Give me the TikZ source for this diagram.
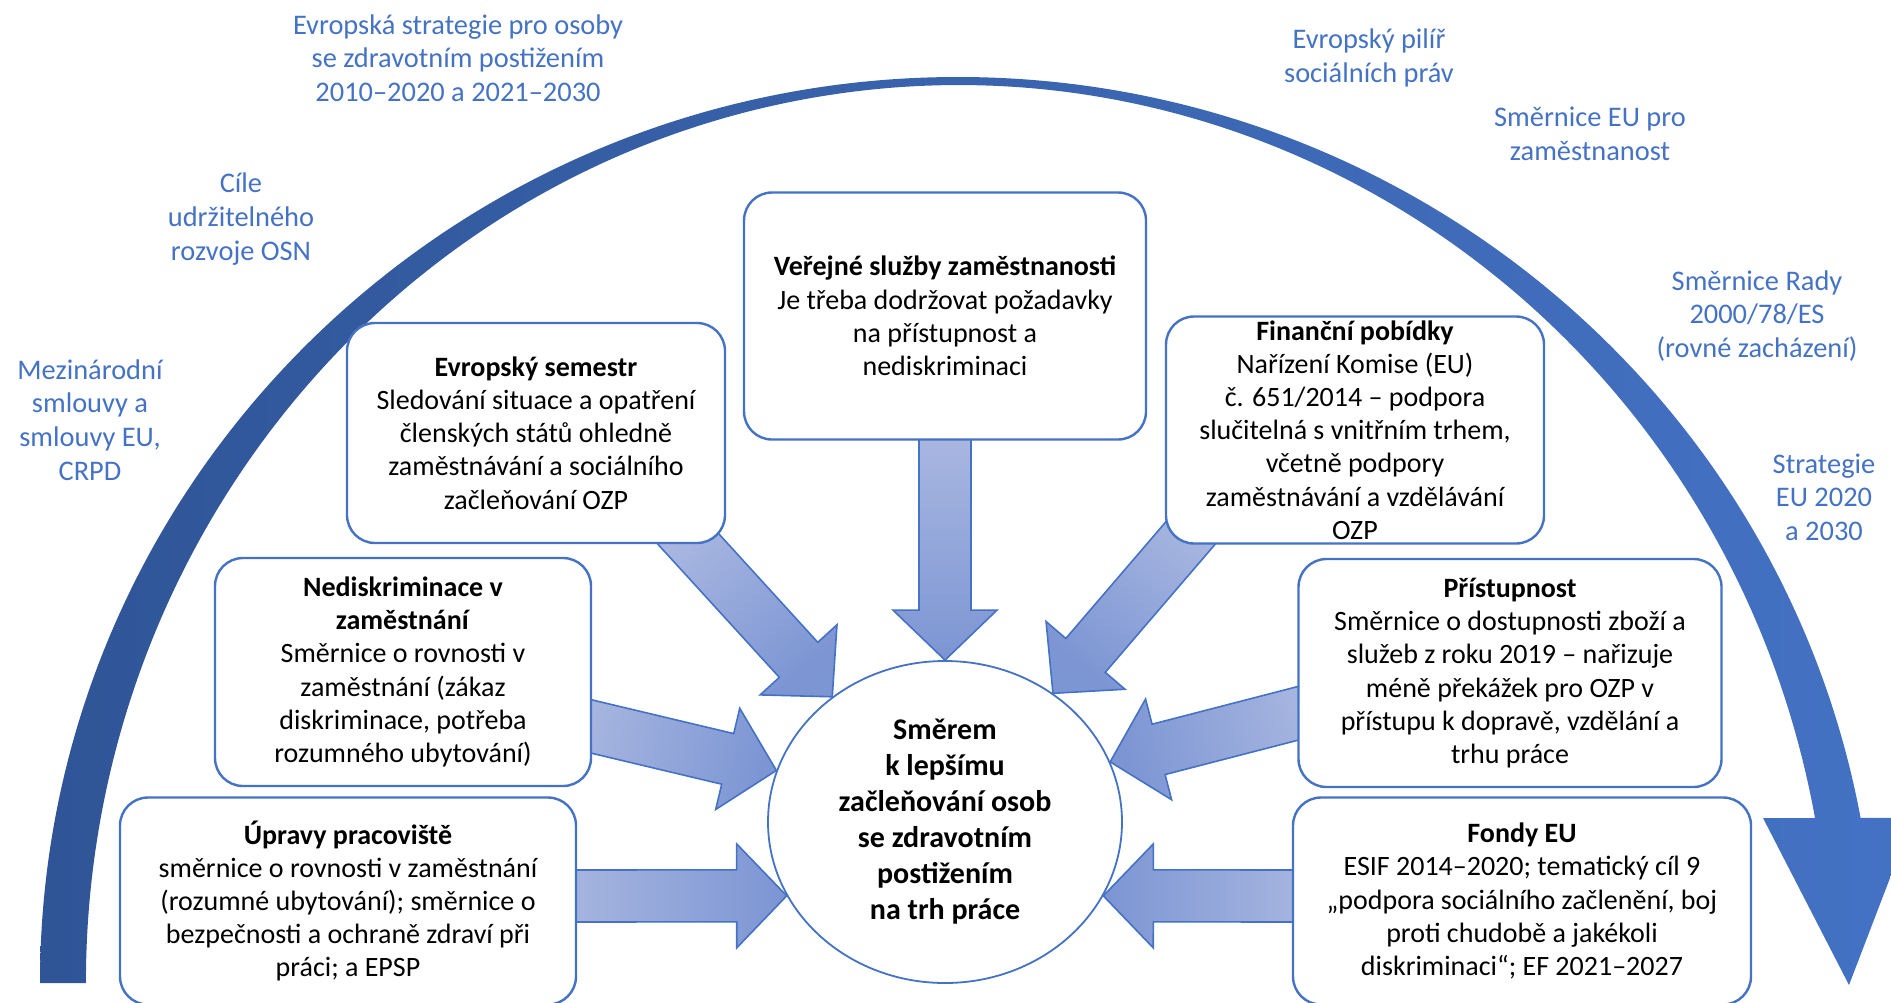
\documentclass[tikz,border=0pt]{standalone}
\usepackage{fontspec}
\setmainfont{Carlito}
\usepackage{tikz}
\usetikzlibrary{shapes.geometric, calc}
\definecolor{boxblue}{RGB}{68,114,196}
\definecolor{arcblue}{RGB}{47,85,151}
\definecolor{arrowlight}{RGB}{170,184,225}
\definecolor{arrowdark}{RGB}{124,149,211}
\newcommand{\txtsize}{\fontsize{14}{16.6}\selectfont}
\pgfdeclarelayer{background}
\pgfsetlayers{background,main}

\begin{document}
\begin{tikzpicture}[x=0.5pt, y=-0.5pt,
  box/.style={draw=boxblue, line width=1.2pt, rounded corners=14pt, fill=white, inner sep=0pt, align=center, font=\txtsize},
  lbl/.style={text=boxblue, align=center, inner sep=0pt, font=\fontsize{14.2}{16.8}\selectfont},
  goalnode/.style={ellipse, draw=boxblue, line width=0.9pt, fill=white, inner sep=0pt, align=center, minimum width=177pt, minimum height=161pt, font=\fontsize{15}{18}\selectfont\bfseries},
  blockarrow/.style={draw=boxblue, line width=0.8pt, left color=arrowlight, right color=arrowdark}]
  \useasboundingbox (0,0) rectangle (1891,1002);

  \node [goalnode] (goal) at (945,822) {Směrem\\k lepšímu\\začleňování osob\\se zdravotním\\postižením\\na trh práce};

  \node [box, minimum width=201pt, minimum height=123.5pt] (vsz) at (945,316) {\textbf{Veřejné služby zaměstnanosti}\\Je třeba dodržovat požadavky\\na přístupnost a\\nediskriminaci};
  \node [box, minimum width=189pt, minimum height=110pt] (sem) at (536,433) {\textbf{Evropský semestr}\\Sledování situace a opatření\\členských států ohledně\\zaměstnávání a sociálního\\začleňování OZP};
  \node [box, minimum width=189pt, minimum height=113.5pt] (fin) at (1355,430) {\textbf{Finanční pobídky}\\Nařízení Komise (EU)\\č. 651/2014 – podpora\\slučitelná s vnitřním trhem,\\včetně podpory\\zaměstnávání a vzdělávání\\OZP};
  \node [box, minimum width=188pt, minimum height=114pt] (ndis) at (403,672) {\textbf{Nediskriminace v}\\\textbf{zaměstnání}\\Směrnice o rovnosti v\\zaměstnání (zákaz\\diskriminace, potřeba\\rozumného ubytování)};
  \node [box, minimum width=211.5pt, minimum height=114pt] (pri) at (1510,673) {\textbf{Přístupnost}\\Směrnice o dostupnosti zboží a\\služeb z roku 2019 – nařizuje\\méně překážek pro OZP v\\přístupu k dopravě, vzdělání a\\trhu práce};
  \node [box, minimum width=228pt, minimum height=103.5pt] (upr) at (348,901) {\textbf{Úpravy pracoviště}\\směrnice o rovnosti v zaměstnání\\(rozumné ubytování); směrnice o\\bezpečnosti a ochraně zdraví při\\práci; a EPSP};
  \node [box, minimum width=229pt, minimum height=103.5pt] (fondy) at (1522,901) {\textbf{Fondy EU}\\ESIF 2014–2020; tematický cíl 9\\„podpora sociálního začlenění, boj\\proti chudobě a jakékoli\\diskriminaci“; EF 2021–2027};

  \node [lbl] (eus) at (458,58) {Evropská strategie pro osoby\\se zdravotním postižením\\2010–2020 a 2021–2030};
  \node [lbl] (pil) at (1369,58) {Evropský pilíř\\sociálních práv};
  \node [lbl] (sme) at (1590,134) {Směrnice EU pro\\zaměstnanost};
  \node [lbl] (rad) at (1757,316) {Směrnice Rady\\2000/78/ES\\(rovné zacházení)};
  \node [lbl] (str) at (1824,497) {Strategie\\EU 2020\\a 2030};
  \node [lbl] (osn) at (241,219) {Cíle\\udržitelného\\rozvoje OSN};
  \node [lbl] (mez) at (90,420) {Mezinárodní\\smlouvy a\\smlouvy EU,\\CRPD};

  \coordinate (vsz-out) at ($(vsz.south)+(0,-10)$);
  \coordinate (sem-out) at ($(sem.south east)+(-55,-24)$);
  \coordinate (fin-out) at ($(fin.south west)+(44,-33)$);
  \coordinate (ndis-out) at ($(ndis.east)+(-28,48)$);
  \coordinate (pri-out) at ($(pri.west)+(29,33)$);
  \coordinate (upr-out) at ($(upr.east)+(-26,-5)$);
  \coordinate (fondy-out) at ($(fondy.west)+(27,-5)$);

  \begin{pgfonlayer}{background}
    \shade [left color=arcblue, right color=boxblue] (40,983) arc [start angle=180, end angle=349.5, x radius=918, y radius=906]
      -- (1913,818) -- (1849,985) -- (1763,818) -- (1815,818)
      arc [start angle=349.4, end angle=180, x radius=872, y radius=898] -- cycle;

    \foreach \s/\a/\g in {vsz-out/90/0, sem-out/132/42, fin-out/50/-40, ndis-out/163/77, pri-out/20/-75, upr-out/205/90, fondy-out/-25/270} {
      \coordinate (tip) at (goal.\a);
      \coordinate (hb) at ($(tip)!25pt!(\s)$);
      \shadedraw [blockarrow, shading angle=\g] ($(\s)!13pt!90:(tip)$) -- ($(hb)!13pt!-90:(\s)$) -- ($(hb)!26pt!-90:(\s)$) -- (tip)
        -- ($(hb)!26pt!90:(\s)$) -- ($(hb)!13pt!90:(\s)$) -- ($(\s)!13pt!-90:(tip)$) -- cycle;
    }
  \end{pgfonlayer}
\end{tikzpicture}
\end{document}
